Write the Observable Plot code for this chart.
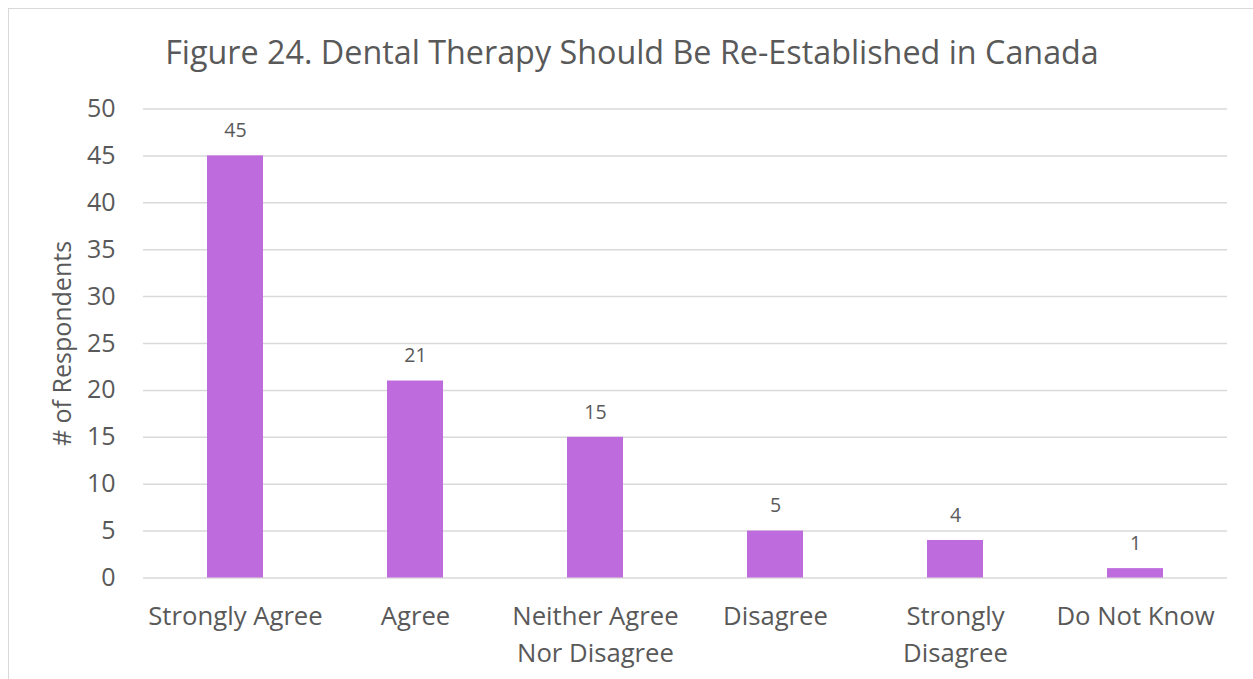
<!DOCTYPE html>
<html>
<head>
<meta charset="utf-8">
<script src="https://cdn.jsdelivr.net/npm/d3@7"></script>
<script src="https://cdn.jsdelivr.net/npm/@observablehq/plot@0.6"></script>
<style>
  html, body { margin: 0; padding: 0; background: #fff; }
  body { width: 1253px; height: 679px; overflow: hidden; position: relative; font-family: "Open Sans", Lato, sans-serif; }
  #frame { position: absolute; left: 8px; top: 8px; width: 1260px; height: 700px; border: 1.5px solid #d9d9d9; box-sizing: border-box; }
  #title { position: absolute; left: 8px; width: 1248px; top: 35px; text-align: center; font-size: 32.3px; color: #595959; line-height: 1; }
  #chart { position: absolute; left: 0; top: 90px; }
</style>
</head>
<body>
<div id="frame"></div>
<div id="title">Figure 24. Dental Therapy Should Be Re-Established in Canada</div>
<div id="chart"></div>
<script>
const categories = ["Strongly Agree", "Agree", "Neither Agree\nNor Disagree", "Disagree", "Strongly\nDisagree", "Do Not Know"];
const respondents = [45, 21, 15, 5, 4, 1];
const yTicks = [0, 5, 10, 15, 20, 25, 30, 35, 40, 45, 50];

const data = categories.map((c, i) => ({category: c, value: respondents[i]}));
const ink = "#595959";
const grid = "#d9d9d9";

const plot = Plot.plot({
  width: 1253,
  height: 589,
  marginLeft: 143,
  marginRight: 26,
  marginTop: 18.5,
  marginBottom: 101.5,
  style: {fontFamily: "'Open Sans', Lato, sans-serif", color: ink, background: "transparent"},
  x: {domain: categories, paddingInner: 0.69, paddingOuter: 0.345, label: null},
  y: {domain: [0, 50], label: null},
  marks: [
    Plot.ruleY(yTicks, {stroke: grid, strokeWidth: 1.5}),
    Plot.barY(data, {x: "category", y: "value", fill: "#be6bde"}),
    Plot.text(data, {x: "category", y: "value", text: d => String(d.value), dy: -25, fontSize: 19.5, fill: ink}),
    Plot.axisY(yTicks, {tickSize: 0, tickPadding: 28, fontSize: 25, fill: ink, label: null}),
    Plot.axisX({tickSize: 0, tickPadding: 21, fontSize: 25.7, lineHeight: 1.44, fill: ink, label: null}),
    Plot.text(["# of Respondents"], {frameAnchor: "left", textAnchor: "middle", dx: -81, rotate: -90, fontSize: 25, fill: ink})
  ]
});
document.getElementById("chart").appendChild(plot);
</script>
</body>
</html>
